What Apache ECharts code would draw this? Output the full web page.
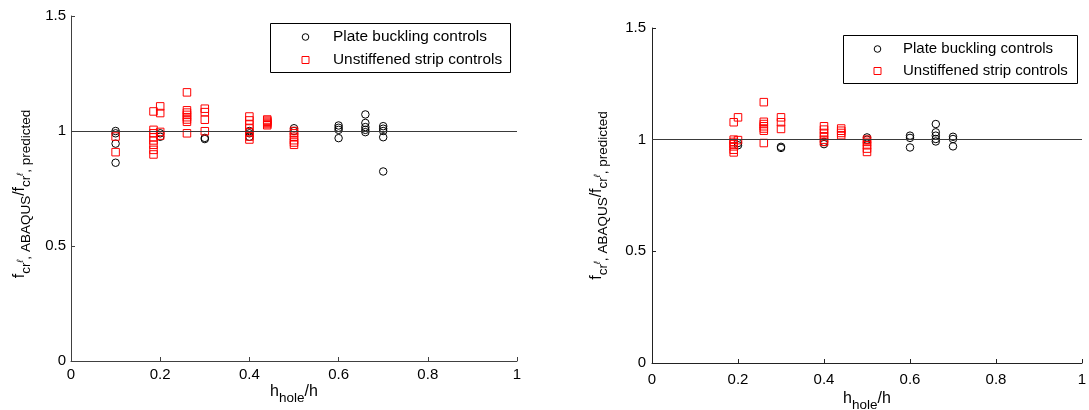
<!DOCTYPE html>
<html>
<head>
<meta charset="utf-8">
<script src="https://cdn.jsdelivr.net/npm/echarts@6/dist/echarts.min.js"></script>
<style>html,body{margin:0;padding:0;background:#fff;}#c{width:1089px;height:410px;}</style>
</head>
<body>
<div id="c"></div>
<script>
// ---- data ----
var xTicks = [0, 0.2, 0.4, 0.6, 0.8, 1];
var yTicks = [0, 0.5, 1, 1.5];
var seriesNames = ['Plate buckling controls', 'Unstiffened strip controls'];

var leftPlate = [
  [0.1,1.0],[0.1,0.99],[0.1,0.945],[0.1,0.862],
  [0.2,0.99],[0.2,0.975],
  [0.3,0.965],[0.3,0.97],
  [0.4,1.0],[0.4,0.99],[0.4,0.975],
  [0.5,1.012],[0.5,1.0],
  [0.6,1.024],[0.6,1.014],[0.6,1.005],[0.6,0.969],
  [0.66,1.072],[0.66,1.035],[0.66,1.017],[0.66,1.005],[0.66,0.995],
  [0.7,1.021],[0.7,1.01],[0.7,1.0],[0.7,0.973],[0.7,0.824]
];
var leftStrip = [
  [0.1,0.976],[0.1,0.908],
  [0.185,1.085],[0.185,1.005],[0.185,0.99],[0.185,0.973],[0.185,0.959],[0.185,0.94],[0.185,0.918],[0.185,0.898],
  [0.2,1.107],[0.2,1.078],[0.2,0.996],[0.2,0.98],
  [0.26,1.168],[0.26,1.09],[0.26,1.08],[0.26,1.07],[0.26,1.06],[0.26,1.05],[0.26,1.04],[0.26,0.99],
  [0.3,1.097],[0.3,1.082],[0.3,1.049],[0.3,0.999],
  [0.4,1.063],[0.4,1.046],[0.4,1.028],[0.4,1.011],[0.4,0.994],[0.4,0.976],[0.4,0.963],
  [0.44,1.05],[0.44,1.045],[0.44,1.04],[0.44,1.035],[0.44,1.03],[0.44,1.025],
  [0.5,1.0],[0.5,0.99],[0.5,0.975],[0.5,0.96],[0.5,0.95],[0.5,0.94]
];
var rightPlate = [
  [0.2,0.985],[0.2,0.975],
  [0.3,0.963],[0.3,0.968],
  [0.4,0.99],[0.4,0.98],
  [0.5,1.01],[0.5,1.0],
  [0.6,1.018],[0.6,1.008],[0.6,0.965],
  [0.66,1.07],[0.66,1.033],[0.66,1.018],[0.66,1.003],[0.66,0.992],
  [0.7,1.013],[0.7,1.003],[0.7,0.97]
];
var rightStrip = [
  [0.19,1.078],[0.19,1.0],[0.19,0.99],[0.19,0.98],[0.19,0.97],[0.19,0.955],[0.19,0.943],
  [0.2,1.1],[0.2,0.998],
  [0.26,1.168],[0.26,1.08],[0.26,1.07],[0.26,1.06],[0.26,1.05],[0.26,1.04],[0.26,0.985],
  [0.3,1.1],[0.3,1.078],[0.3,1.048],
  [0.4,1.06],[0.4,1.045],[0.4,1.03],[0.4,1.015],[0.4,1.0],[0.4,0.99],
  [0.44,1.05],[0.44,1.04],[0.44,1.03],[0.44,1.02],
  [0.5,1.0],[0.5,0.99],[0.5,0.975],[0.5,0.96],[0.5,0.945]
];
var refLine = 1;

// ---- chart ----
var FONT = "'Liberation Sans', Arial, Helvetica, sans-serif";
var chart = echarts.init(document.getElementById('c'), null, {renderer: 'canvas'});

var nameRich = {
  m: {fontSize: 16, lineHeight: 18, verticalAlign: 'top', color: '#000', fontFamily: FONT},
  s: {fontSize: 13.5, lineHeight: 14, padding: [7, 0, 0, 0], verticalAlign: 'top', color: '#000', fontFamily: FONT},
  p: {fontSize: 9, lineHeight: 9, padding: [4, 0, 0, 0], verticalAlign: 'top', fontStyle: 'italic', color: '#000', fontFamily: FONT}
};
var yName = '{m|f}{s|cr}{p|ℓ}{s|, ABAQUS}{m|/f}{s|cr}{p|ℓ}{s|, predicted}';
var xName = '{m|h}{s|hole}{m|/h}';

function xAxis(gi, color, margin, gap) {
  return {
    type: 'value', gridIndex: gi, min: 0, max: 1, interval: 0.2,
    axisLine: {show: true, onZero: false, lineStyle: {color: color, width: 1}},
    axisTick: {show: true, inside: true, length: 4, lineStyle: {color: color}},
    splitLine: {show: false},
    axisLabel: {color: '#000', fontSize: 15, fontFamily: FONT, margin: margin,
      formatter: function (v) { return String(+v.toFixed(1)); }},
    name: xName, nameLocation: 'middle', nameGap: gap, nameMoveOverlap: false,
    nameTextStyle: {rich: nameRich, verticalAlign: 'top'}
  };
}
function yAxis(gi, color, margin, gap, endPad) {
  return {
    type: 'value', gridIndex: gi, min: 0, max: 1.5, interval: 0.5,
    axisLine: {show: true, onZero: false, lineStyle: {color: color, width: 1}},
    axisTick: {show: true, inside: true, length: 4, lineStyle: {color: color}},
    splitLine: {show: false},
    axisLabel: {color: '#000', fontSize: 15, fontFamily: FONT, margin: margin,
      formatter: function (v) { return String(+v.toFixed(1)); }},
    name: yName, nameLocation: 'middle', nameGap: gap, nameRotate: 90,
    nameTextStyle: {rich: nameRich, padding: [0, endPad, 0, 0]}
  };
}
function scatter(name, data, xi, yi, circle, withLine) {
  var s = {
    name: name, type: 'scatter', xAxisIndex: xi, yAxisIndex: yi, data: data,
    symbol: circle ? 'circle' : 'rect', symbolSize: 7.5,
    itemStyle: {color: 'rgba(0,0,0,0)', borderColor: circle ? '#000' : '#ff0000', borderWidth: 1, opacity: 1},
    emphasis: {disabled: true}, silent: true, z: circle ? 3 : 4
  };
  if (withLine) {
    s.markLine = {silent: true, symbol: 'none', animation: false, label: {show: false},
      lineStyle: {color: '#3a3a3a', width: 1, type: 'solid'},
      data: [{yAxis: refLine}]};
  }
  return s;
}
// legend box drawn as graphic (box, markers, real text labels)
function legendGraphic(x, y, w, h, mx, tx, y1, y2, fs) {
  return [
    {type: 'rect', shape: {x: x + 0.5, y: y + 0.5, width: w, height: h}, z: 10,
      style: {fill: '#fff', stroke: '#000', lineWidth: 1}},
    {type: 'circle', shape: {cx: mx, cy: y1, r: 3.3}, z: 11,
      style: {fill: 'none', stroke: '#000', lineWidth: 1}},
    {type: 'rect', shape: {x: mx - 3.5, y: y2 - 3.5, width: 7, height: 7}, z: 11,
      style: {fill: 'none', stroke: '#ff0000', lineWidth: 1}},
    {type: 'text', x: tx, y: y1, z: 11,
      style: {text: seriesNames[0], fill: '#000', fontSize: fs, fontFamily: FONT, verticalAlign: 'middle', align: 'left'}},
    {type: 'text', x: tx, y: y2, z: 11,
      style: {text: seriesNames[1], fill: '#000', fontSize: fs, fontFamily: FONT, verticalAlign: 'middle', align: 'left'}}
  ];
}

chart.setOption({
  animation: false,
  backgroundColor: '#fff',
  grid: [
    {left: 71, right: 572, top: 16, bottom: 49, containLabel: false, outerBoundsMode: 'none'},
    {left: 652, right: 7, top: 28, bottom: 47, containLabel: false, outerBoundsMode: 'none'}
  ],
  xAxis: [xAxis(0, '#404040', 6, 23), xAxis(1, '#222', 9, 28)],
  yAxis: [yAxis(0, '#404040', 5, 41, 11), yAxis(1, '#222', 6, 45, 0)],
  graphic: legendGraphic(270, 23, 240, 49, 305.5, 333, 37, 60, 15.4)
    .concat(legendGraphic(843, 35, 234, 48, 877.5, 903, 49, 71, 15)),
  series: [
    scatter(seriesNames[0], leftPlate, 0, 0, true, true),
    scatter(seriesNames[1], leftStrip, 0, 0, false, false),
    scatter(seriesNames[0], rightPlate, 1, 1, true, true),
    scatter(seriesNames[1], rightStrip, 1, 1, false, false)
  ]
});
</script>
</body>
</html>
